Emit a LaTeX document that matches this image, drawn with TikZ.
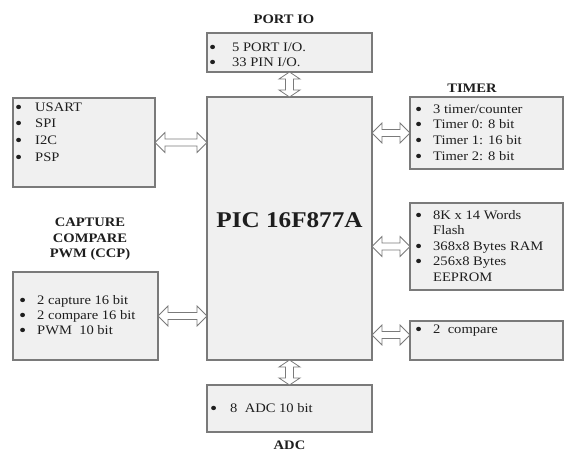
\documentclass[tikz,border=0pt]{standalone}
\usepackage{fontspec}
\usepackage{graphicx}
\setmainfont{Liberation Serif}[FakeStretch=1.12]
\usetikzlibrary{calc}
\definecolor{boxfill}{HTML}{F0F0F0}
\definecolor{boxline}{HTML}{7A7A7A}
\definecolor{txt}{HTML}{1E1E1E}
\newcommand\bul{\smash{\raisebox{-2.2pt}{\scalebox{1.4}{\textbullet}}}}
\newcommand\blist[3]{\fontsize{13}{#2}\selectfont\begin{tabular}[t]{@{}p{#1}@{}l@{}}#3\end{tabular}}
\newcommand\harrow[2]{\draw[blk] let \p1=#1, \p2=#2 in
  (\x1,\y1) -- (\x1+10pt,\y1+10pt) -- (\x1+10pt,\y1+3.5pt) -- (\x2-10pt,\y1+3.5pt) -- (\x2-10pt,\y1+10pt)
  -- (\x2,\y1) -- (\x2-10pt,\y1-10pt) -- (\x2-10pt,\y1-3.5pt) -- (\x1+10pt,\y1-3.5pt) -- (\x1+10pt,\y1-10pt) -- cycle;}
\newcommand\varrow[2]{\draw[blk] let \p1=#1, \p2=#2 in
  (\x1,\y1) -- (\x1+10.5pt,\y1-7pt) -- (\x1+4pt,\y1-7pt) -- (\x1+4pt,\y2+7pt) -- (\x1+10.5pt,\y2+7pt)
  -- (\x1,\y2) -- (\x1-10.5pt,\y2+7pt) -- (\x1-4pt,\y2+7pt) -- (\x1-4pt,\y1-7pt) -- (\x1-10.5pt,\y1-7pt) -- cycle;}
\begin{document}
\begin{tikzpicture}[x=1pt,y=-1pt,
  box/.style={draw=boxline,fill=boxfill,line width=1.2pt,inner sep=0pt,outer sep=0pt},
  blk/.style={draw=boxline,fill=white,line width=0.8pt,line join=miter},
  lst/.style={anchor=base west,inner sep=0pt,text=txt},
  head/.style={anchor=base,inner sep=0pt,text=txt,font=\fontsize{13}{15.5}\selectfont\bfseries}]
\useasboundingbox[fill=white] (0,0) rectangle (565,453);
% boxes
\node[box,minimum width=165pt,minimum height=39pt] (port) at (289.5,52.5) {};
\node[box,minimum width=165pt,minimum height=263pt] (main) at (289.5,228.5) {};
\node[box,minimum width=142pt,minimum height=89pt] (usart) at (84,142.5) {};
\node[box,minimum width=153pt,minimum height=72pt] (timer) at (486.5,133) {};
\node[box,minimum width=153pt,minimum height=87pt] (mem) at (486.5,246.5) {};
\node[box,minimum width=153pt,minimum height=39pt] (cmp) at (486.5,340.5) {};
\node[box,minimum width=145pt,minimum height=88pt] (ccp) at (85.5,316) {};
\node[box,minimum width=165pt,minimum height=47pt] (adc) at (289.5,408.5) {};
% headings
\node[head] (hport) at (284,23.5) {PORT IO};
\node[head] (htimer) at (472,92.5) {TIMER};
\node[head] (hccp) at (90,226.5) {\begin{tabular}[t]{@{}c@{}}CAPTURE\\COMPARE\\PWM (CCP)\end{tabular}};
\node[head] (hadc) at (289.5,449.5) {ADC};
\node[anchor=base,inner sep=0pt,text=txt,font=\fontsize{22.5}{27}\selectfont\bfseries] (pic) at (289.5,227.5) {PIC 16F877A};
% lists
\node[lst] (lport) at (209,51) {\blist{23pt}{15}{\bul & 5 PORT I/O.\\ \bul & 33 PIN I/O.}};
\node[lst] (lusart) at (15,111) {\blist{20pt}{16.7}{\bul & USART\\ \bul & SPI\\ \bul & I2C\\ \bul & PSP}};
\node[lst] (ltimer) at (415,113) {\blist{18pt}{15.7}{\bul & 3 timer/counter\\ \bul & Timer 0: 8 bit\\ \bul & Timer 1: 16 bit\\ \bul & Timer 2: 8 bit}};
\node[lst] (lmem) at (415,219) {\blist{18pt}{15.5}{\bul & 8K x 14 Words\\ & Flash\\ \bul & 368x8 Bytes RAM\\ \bul & 256x8 Bytes\\ & EEPROM}};
\node[lst] (lcmp) at (415,333) {\blist{18pt}{15.5}{\bul & 2\ \ compare}};
\node[lst] (lccp) at (19,304) {\blist{18pt}{15}{\bul & 2 capture 16 bit\\ \bul & 2 compare 16 bit\\ \bul & PWM\ \ 10 bit}};
\node[lst] (ladc) at (210,412) {\blist{20pt}{15.5}{\bul & 8\ \ ADC 10 bit}};
% connectors
\coordinate (cmpa) at ($(cmp.west)+(0,-5.5)$);
\varrow{(port.south)}{(main.north)}
\varrow{(main.south)}{(adc.north)}
\harrow{(usart.east)}{(main.west |- usart.east)}
\harrow{(ccp.east)}{(main.west |- ccp.east)}
\harrow{(main.east |- timer.west)}{(timer.west)}
\harrow{(main.east |- mem.west)}{(mem.west)}
\harrow{(main.east |- cmpa)}{(cmpa)}
\end{tikzpicture}
\end{document}
